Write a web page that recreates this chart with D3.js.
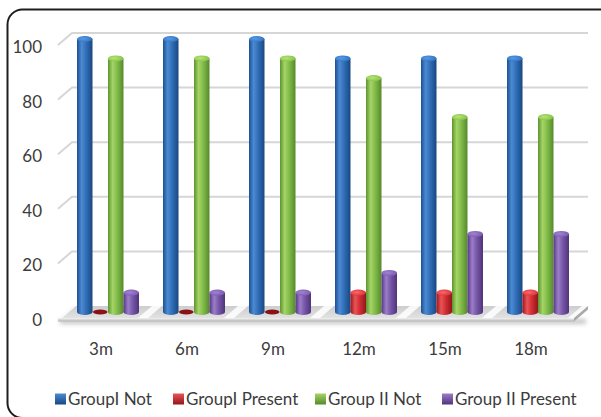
<!DOCTYPE html>
<html><head><meta charset="utf-8">
<script src="https://cdn.jsdelivr.net/npm/d3@7"></script>
<style>html,body{margin:0;padding:0;background:#fff;} svg{display:block;}</style>
</head><body>
<svg id="chart" width="601" height="417"></svg>
<script>
// Data
const categories = ["3m", "6m", "9m", "12m", "15m", "18m"];
const seriesNames = ["GroupI Not", "GroupI Present", "Group II Not", "Group II Present"];
const groupINot = [100, 100, 100, 92.9, 92.9, 92.9];
const groupIPresent = [0, 0, 0, 7.1, 7.1, 7.1];
const groupIINot = [92.9, 92.9, 92.9, 85.7, 71.4, 71.4];
const groupIIPresent = [7.1, 7.1, 7.1, 14.3, 28.6, 28.6];
const yTicks = [0, 20, 40, 60, 80, 100];

const seriesValues = [groupINot, groupIPresent, groupIINot, groupIIPresent];

// Cylinder shading per series: dark edge, highlight, body, right edge, cap
const palettes = [
  { id: "blue",   stops: ["#1d4f91", "#4c8bd3", "#2f6db6", "#1a4780"], cap: "#4b89cf", flat: "#1f4f8c" },
  { id: "red",    stops: ["#9c161c", "#ea5457", "#cf2e33", "#93161b"], cap: "#e25a5d", flat: "#8a1116" },
  { id: "green",  stops: ["#5a952c", "#a6d468", "#80bb48", "#55892a"], cap: "#a0cc63", flat: "#5a8f2c" },
  { id: "purple", stops: ["#553783", "#9b7dca", "#7656a6", "#4f337b"], cap: "#9072bf", flat: "#553882" }
];

const svg = d3.select("#chart");
const defs = svg.append("defs");

// Layout of the front plane of the plot box and its depth offset
const depthX = 14, depthY = -12;
const x = d3.scaleBand().domain(categories).range([58, 574]).paddingInner(0).paddingOuter(0);
const y = d3.scaleLinear().domain([0, 100]).range([318, 45]);
const barW = 15.5;

// Gradients
palettes.forEach(p => {
  const g = defs.append("linearGradient").attr("id", "grad-" + p.id)
    .attr("x1", "0").attr("x2", "1").attr("y1", "0").attr("y2", "0");
  [0, 0.3, 0.6, 1].forEach((o, i) => g.append("stop").attr("offset", o).attr("stop-color", p.stops[i]));
  const c = defs.append("radialGradient").attr("id", "cap-" + p.id)
    .attr("cx", "0.4").attr("cy", "0.45").attr("r", "0.7");
  c.append("stop").attr("offset", 0).attr("stop-color", d3.color(p.cap).brighter(0.35));
  c.append("stop").attr("offset", 1).attr("stop-color", p.stops[2]);
  const s = defs.append("linearGradient").attr("id", "leg-" + p.id)
    .attr("x1", "0").attr("x2", "0").attr("y1", "0").attr("y2", "1");
  s.append("stop").attr("offset", 0).attr("stop-color", p.stops[1]);
  s.append("stop").attr("offset", 1).attr("stop-color", p.stops[3]);
});

const floorGrad = defs.append("linearGradient").attr("id", "floor-top")
  .attr("x1", "0").attr("x2", "0").attr("y1", "0").attr("y2", "1");
floorGrad.append("stop").attr("offset", 0).attr("stop-color", "#cdcdcd");
floorGrad.append("stop").attr("offset", 1).attr("stop-color", "#e2e2e2");
const edgeGrad = defs.append("linearGradient").attr("id", "floor-edge")
  .attr("x1", "0").attr("x2", "0").attr("y1", "0").attr("y2", "1");
edgeGrad.append("stop").attr("offset", 0).attr("stop-color", "#f4f4f4");
edgeGrad.append("stop").attr("offset", 1).attr("stop-color", "#b4b4b4");

const blur = defs.append("filter").attr("id", "soft").attr("x", "-10%").attr("y", "-100%").attr("width", "120%").attr("height", "300%");
blur.append("feGaussianBlur").attr("stdDeviation", 2);

// Outer frame
svg.append("rect")
  .attr("x", 7.5).attr("y", 9.5).attr("width", 612).attr("height", 408.5)
  .attr("rx", 15).attr("fill", "none").attr("stroke", "#1e1e1e").attr("stroke-width", 2);

// Gridlines on the side and back walls
const x0 = x.range()[0], x1 = x.range()[1];
const grid = svg.append("g");
yTicks.filter(t => t > 0).forEach(t => {
  grid.append("path")
    .attr("d", `M${x0},${y(t)}L${x0 + depthX},${y(t) + depthY}L${x1 + depthX},${y(t) + depthY}`)
    .attr("fill", "none").attr("stroke", "#d6d6d6").attr("stroke-width", 2);
});

// Y tick labels
svg.append("g").selectAll("text").data(yTicks).join("text")
  .attr("x", 42).attr("y", d => y(d) + 8)
  .attr("text-anchor", "end")
  .attr("font-family", "Lato, 'Open Sans', sans-serif").attr("font-size", 17)
  .attr("fill", "#3c3c3c")
  .text(d => d);

// Floor slab
const floor = svg.append("g");
const fy = y(0);
floor.append("rect")
  .attr("x", x0 + 2).attr("y", fy + 1).attr("width", x1 - x0 + 10).attr("height", 5)
  .attr("fill", "#9a9a9a").attr("opacity", 0.55).attr("filter", "url(#soft)");
floor.append("path")
  .attr("d", `M${x0},${fy}L${x0 + depthX},${fy + depthY}L${x1 + depthX},${fy + depthY}L${x1},${fy}Z`)
  .attr("fill", "url(#floor-top)");
// light reflections between the groups
d3.range(categories.length + 1).forEach(i => {
  const gx = (i < categories.length ? x(categories[i]) : x1) - 6;
  floor.append("path")
    .attr("d", `M${gx},${fy}L${gx + depthX},${fy + depthY}L${gx + depthX + 10},${fy + depthY}L${gx + 10},${fy}Z`)
    .attr("fill", "#ffffff").attr("opacity", 0.85);
});
floor.append("rect")
  .attr("x", x0).attr("y", fy).attr("width", x1 - x0).attr("height", 3.5)
  .attr("fill", "url(#floor-edge)");
floor.append("path")
  .attr("d", `M${x1},${fy}L${x1 + depthX},${fy + depthY}L${x1 + depthX},${fy + depthY + 3.5}L${x1},${fy + 3.5}Z`)
  .attr("fill", "#a9a9a9");

// Cylinders, standing at mid depth
const midX = depthX / 2, midY = depthY / 2;
const bars = svg.append("g");
categories.forEach((cat, ci) => {
  const cx0 = x(cat) + x.bandwidth() / 2 + midX;
  seriesValues.forEach((vals, si) => {
    const v = vals[ci];
    const p = palettes[si];
    const cx = cx0 + (si - 1.5) * barW;
    const base = y(0) + midY;
    const top = y(v) + midY;
    const rx = barW / 2, ry = 3;
    const g = bars.append("g");
    if (v <= 0) {
      g.append("ellipse").attr("cx", cx).attr("cy", base).attr("rx", rx - 0.5).attr("ry", 2.6)
        .attr("fill", p.flat);
      return;
    }
    g.append("ellipse").attr("cx", cx).attr("cy", base).attr("rx", rx).attr("ry", ry)
      .attr("fill", `url(#grad-${p.id})`);
    g.append("rect").attr("x", cx - rx).attr("y", top).attr("width", barW).attr("height", base - top)
      .attr("fill", `url(#grad-${p.id})`);
    g.append("ellipse").attr("cx", cx).attr("cy", top).attr("rx", rx).attr("ry", ry)
      .attr("fill", `url(#cap-${p.id})`);
  });
});

// Category labels on the front plane
svg.append("g").selectAll("text").data(categories).join("text")
  .attr("x", d => x(d) + x.bandwidth() / 2)
  .attr("y", 355)
  .attr("text-anchor", "middle")
  .attr("font-family", "Lato, 'Open Sans', sans-serif").attr("font-size", 17)
  .attr("fill", "#3c3c3c")
  .text(d => d);

// Legend
const legendX = [55, 173, 315, 442];
const legend = svg.append("g");
seriesNames.forEach((name, i) => {
  const p = palettes[i];
  legend.append("rect").attr("x", legendX[i]).attr("y", 393.5).attr("width", 11).attr("height", 11)
    .attr("fill", `url(#leg-${p.id})`);
  legend.append("text").attr("x", legendX[i] + 13).attr("y", 405)
    .attr("font-family", "Lato, 'Open Sans', sans-serif").attr("font-size", 17)
    .attr("fill", "#3c3c3c")
    .text(name);
});
</script>
</body></html>
